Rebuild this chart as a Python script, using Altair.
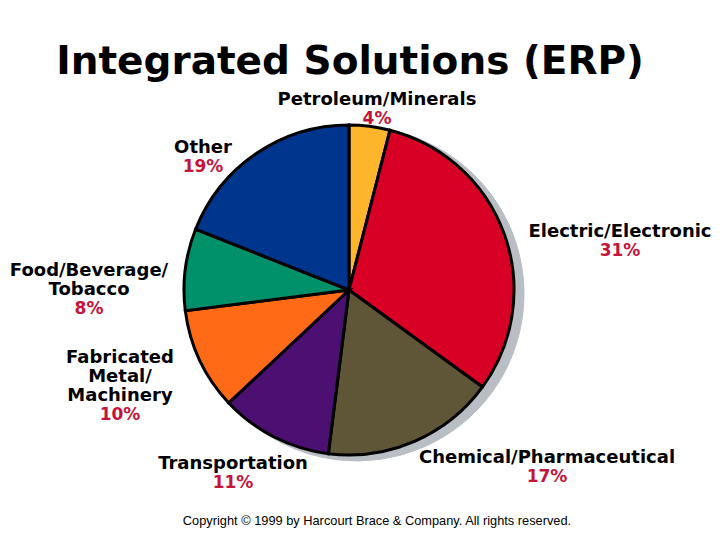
import altair as alt
import pandas as pd

# ---- data ----
categories = ["Petroleum/Minerals", "Electric/Electronic", "Chemical/Pharmaceutical",
              "Transportation", "Fabricated Metal/Machinery", "Food/Beverage/Tobacco", "Other"]
shares = [4, 31, 17, 11, 10, 8, 19]
colors = ["#FDB52B", "#D90026", "#5F5537", "#4C0F72", "#FE6A16", "#00916A", "#00358E"]
label_lines = [["Petroleum/Minerals"], ["Electric/Electronic"], ["Chemical/Pharmaceutical"],
               ["Transportation"], ["Fabricated", "Metal/", "Machinery"],
               ["Food/Beverage/", "Tobacco"], ["Other"]]

# ---- layout (page pixels minus 8px margin) ----
M = 8
CX, CY, R = 349 - M, 290 - M, 165
label_anchor = [(377, 100), (620, 232), (547, 458), (233, 464), (120, 358), (89, 271), (203, 148)]
LINE = 19

df = pd.DataFrame({"category": categories, "share": shares, "order": list(range(len(shares)))})

rows = []
for cat, s, lines, (ax, ay) in zip(categories, shares, label_lines, label_anchor):
    for i, ln in enumerate(lines):
        rows.append({"text": ln, "px": ax - M, "py": ay - M + i * LINE, "kind": "name"})
    rows.append({"text": f"{s}%", "px": ax - M, "py": ay - M + len(lines) * LINE, "kind": "pct"})
lab = pd.DataFrame(rows)

base = alt.Chart(df)
shadow = base.mark_arc(outerRadius=R + 2, fill="#B9BDC4", stroke="#B9BDC4").encode(
    theta=alt.Theta("share:Q", stack=True),
    order=alt.Order("order:Q"),
    x=alt.value(CX + 8), y=alt.value(CY + 4),
)
pie = base.mark_arc(outerRadius=R, stroke="black", strokeWidth=3).encode(
    theta=alt.Theta("share:Q", stack=True),
    order=alt.Order("order:Q"),
    color=alt.Color("category:N", scale=alt.Scale(domain=categories, range=colors), legend=None),
    x=alt.value(CX), y=alt.value(CY),
)

names = alt.Chart(lab).transform_filter(alt.datum.kind == "name").mark_text(
    font="DejaVu Sans", fontWeight="bold", fontSize=18, color="black", align="center", baseline="middle"
).encode(x=alt.X("px:Q", scale=None), y=alt.Y("py:Q", scale=None), text="text:N")
pcts = alt.Chart(lab).transform_filter(alt.datum.kind == "pct").mark_text(
    font="DejaVu Sans", fontWeight="bold", fontSize=17, color="#C4143C", align="center", baseline="middle"
).encode(x=alt.X("px:Q", scale=None), y=alt.Y("py:Q", scale=None), text="text:N")

title = alt.Chart(pd.DataFrame({"t": ["Integrated Solutions (ERP)"]})).mark_text(
    font="DejaVu Sans", fontWeight="bold", fontSize=39, color="black", align="center", baseline="middle"
).encode(x=alt.value(350 - M), y=alt.value(62 - M), text="t:N")

copy = alt.Chart(pd.DataFrame({"t": ["Copyright © 1999 by Harcourt Brace & Company. All rights reserved."]})).mark_text(
    font="Liberation Sans", fontSize=12.8, color="black", align="center", baseline="middle"
).encode(x=alt.value(377 - M), y=alt.value(521 - M), text="t:N")

chart = alt.layer(shadow, pie, names, pcts, title, copy).properties(
    width=704, height=524, autosize="none", padding=0, background="white"
).configure_view(stroke=None)

chart.save("out.html", embed_options={"renderer": "svg", "actions": False})
